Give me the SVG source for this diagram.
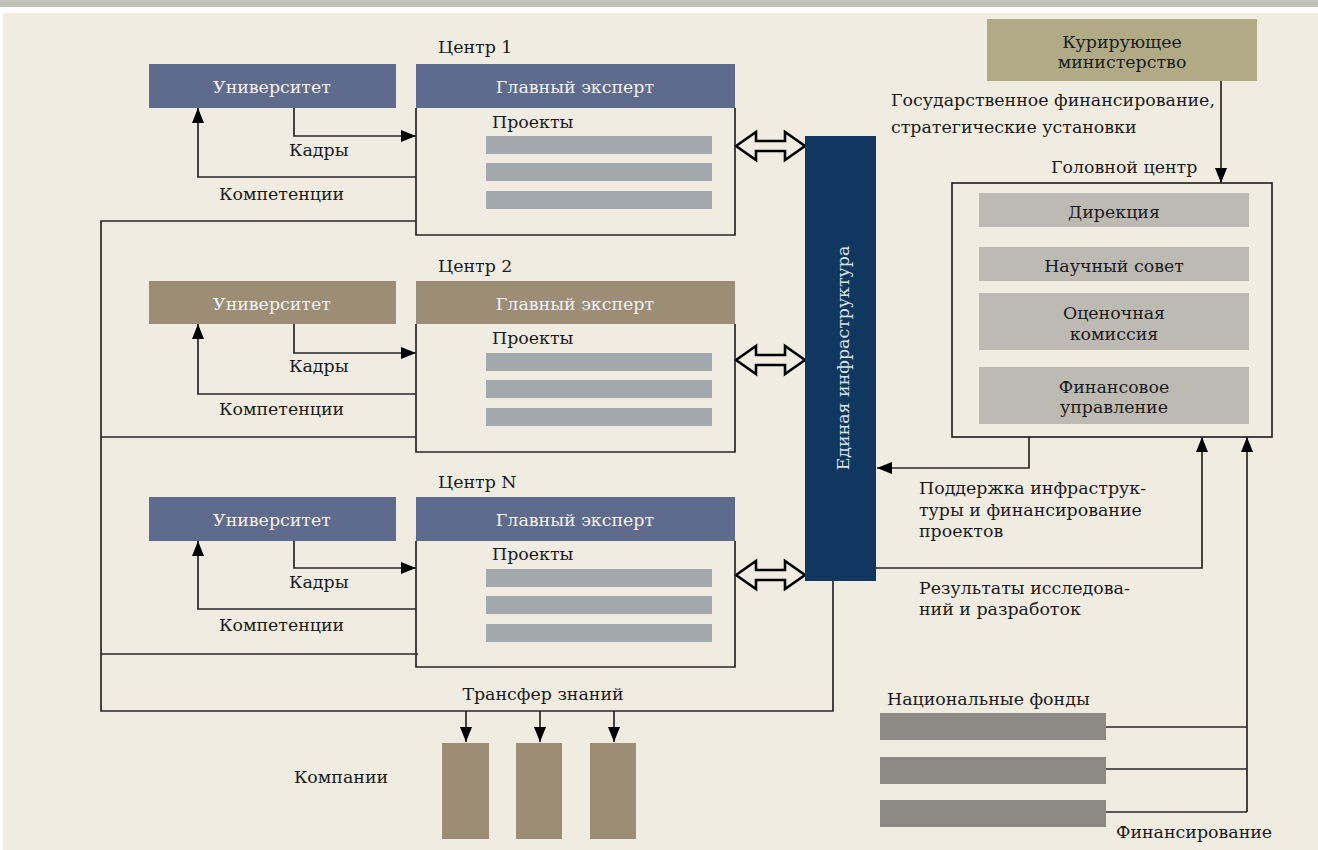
<svg xmlns="http://www.w3.org/2000/svg" width="1318" height="850" viewBox="0 0 1318 850">
<style>
text{font-family:"DejaVu Serif","Liberation Serif",serif;font-size:17.4px;fill:#1a1a1a}
.w{fill:#f2f2f2}
.c{text-anchor:middle}
.ln{fill:none;stroke:#262626;stroke-width:1.7}
.ar{marker-end:url(#ah)}
.blue{fill:#5f6b8c}
.brown{fill:#9c8d77}
.bar{fill:#a2a8ab}
.hc{fill:#bdb9b3}
.fund{fill:#8d8a84}
.dbl{fill:#f0ece2;stroke:#000;stroke-width:2.6;stroke-linejoin:miter}
</style>
<defs>
<marker id="ah" viewBox="0 0 15 12" refX="15" refY="6" markerWidth="15" markerHeight="12" markerUnits="userSpaceOnUse" orient="auto">
<path d="M0,0 L15,6 L0,12 Z" fill="#000"/>
</marker>
<path id="dbl" d="M0,0 L20,-14 L20,-5 L49,-5 L49,-14 L69,0 L49,14 L49,5 L20,5 L20,14 Z"/>
</defs>
<rect x="0" y="0" width="1318" height="850" fill="#ffffff"/>
<rect x="0" y="0" width="1318" height="7" fill="#bfc2b5"/>
<rect x="3" y="13" width="1315" height="837" fill="#f0ece2"/>

<g id="connectors">
<path class="ln ar" d="M294,108 V136 H416"/>
<path class="ln ar" d="M416,177 H198 V108"/>
<path class="ln" d="M416,221 H101 V711 H833 V581"/>
<path class="ln ar" d="M294,324 V353 H416"/>
<path class="ln ar" d="M416,394 H198 V324"/>
<path class="ln" d="M416,437 H101"/>
<path class="ln ar" d="M294,541 V568 H416"/>
<path class="ln ar" d="M416,609 H198 V541"/>
<path class="ln" d="M418,654 H101"/>
<path class="ln ar" d="M466,711 V742"/>
<path class="ln ar" d="M540,711 V742"/>
<path class="ln ar" d="M614,711 V742"/>
<path class="ln ar" d="M1221,81 V183"/>
<path class="ln ar" d="M1029,437 V468 H877"/>
<path class="ln ar" d="M876,568 H1202 V437"/>
<path class="ln ar" d="M1247,812 V437"/>
<path class="ln" d="M1106,727 H1247 M1106,769 H1247 M1106,812 H1247"/>
<use href="#dbl" class="dbl" x="736" y="146"/>
<use href="#dbl" class="dbl" x="736" y="360"/>
<use href="#dbl" class="dbl" x="736" y="575"/>
</g>

<g id="center1">
<text x="438" y="53">Центр 1</text>
<rect class="blue" x="149" y="64" width="247" height="44"/>
<text class="w c" x="272" y="93">Университет</text>
<path class="ln" d="M416,108 V235 H735 V108"/>
<rect class="blue" x="416" y="64" width="319" height="44"/>
<text class="w c" x="575" y="93">Главный эксперт</text>
<text x="492" y="128">Проекты</text>
<rect class="bar" x="486" y="136" width="226" height="18"/>
<rect class="bar" x="486" y="163" width="226" height="18"/>
<rect class="bar" x="486" y="191" width="226" height="18"/>
<text x="289" y="156">Кадры</text>
<text x="219" y="200">Компетенции</text>
</g>

<g id="center2">
<text x="438" y="272">Центр 2</text>
<rect class="brown" x="149" y="281" width="247" height="43"/>
<text class="w c" x="272" y="310">Университет</text>
<path class="ln" d="M416,324 V452 H735 V324"/>
<rect class="brown" x="416" y="281" width="319" height="43"/>
<text class="w c" x="575" y="310">Главный эксперт</text>
<text x="492" y="344">Проекты</text>
<rect class="bar" x="486" y="353" width="226" height="18"/>
<rect class="bar" x="486" y="380" width="226" height="18"/>
<rect class="bar" x="486" y="408" width="226" height="18"/>
<text x="289" y="372">Кадры</text>
<text x="219" y="415">Компетенции</text>
</g>

<g id="centerN">
<text x="438" y="488">Центр N</text>
<rect class="blue" x="149" y="497" width="247" height="44"/>
<text class="w c" x="272" y="526">Университет</text>
<path class="ln" d="M416,541 V667 H735 V541"/>
<rect class="blue" x="416" y="497" width="319" height="44"/>
<text class="w c" x="575" y="526">Главный эксперт</text>
<text x="492" y="560">Проекты</text>
<rect class="bar" x="486" y="569" width="226" height="18"/>
<rect class="bar" x="486" y="596" width="226" height="18"/>
<rect class="bar" x="486" y="624" width="226" height="18"/>
<text x="289" y="588">Кадры</text>
<text x="219" y="631">Компетенции</text>
</g>

<g id="infrastructure">
<rect x="805" y="136" width="71" height="445" fill="#0f3760"/>
<text class="c" x="849" y="358" transform="rotate(-90 849 358)" style="fill:#dde2ea">Единая инфраструктура</text>
</g>

<g id="ministry">
<rect x="987" y="19" width="270" height="62" fill="#b0ab85"/>
<text class="c" x="1122" y="48">Курирующее</text>
<text class="c" x="1122" y="68">министерство</text>
</g>

<g id="labels">
<text x="891" y="106">Государственное финансирование,</text>
<text x="891" y="133">стратегические установки</text>
<text x="1051" y="173">Головной центр</text>
<text x="919" y="494">Поддержка инфраструк-</text>
<text x="919" y="516">туры и финансирование</text>
<text x="919" y="537">проектов</text>
<text x="919" y="594">Результаты исследова-</text>
<text x="919" y="615">ний и разработок</text>
<text class="c" x="543" y="700">Трансфер знаний</text>
</g>

<g id="headcenter">
<rect x="952" y="183" width="320" height="254" fill="none" stroke="#262626" stroke-width="1.7"/>
<rect class="hc" x="979" y="193" width="270" height="34"/>
<text class="c" x="1114" y="218">Дирекция</text>
<rect class="hc" x="979" y="247" width="270" height="34"/>
<text class="c" x="1114" y="272">Научный совет</text>
<rect class="hc" x="979" y="293" width="270" height="57"/>
<text class="c" x="1114" y="319">Оценочная</text>
<text class="c" x="1114" y="340">комиссия</text>
<rect class="hc" x="979" y="367" width="270" height="57"/>
<text class="c" x="1114" y="393">Финансовое</text>
<text class="c" x="1114" y="413">управление</text>
</g>

<g id="companies">
<text class="c" x="341" y="783">Компании</text>
<rect class="brown" x="442" y="743" width="47" height="96"/>
<rect class="brown" x="516" y="743" width="46" height="96"/>
<rect class="brown" x="590" y="743" width="46" height="96"/>
</g>

<g id="funds">
<text x="887" y="705">Национальные фонды</text>
<rect class="fund" x="880" y="713" width="226" height="27"/>
<rect class="fund" x="880" y="757" width="226" height="27"/>
<rect class="fund" x="880" y="800" width="226" height="27"/>
<text x="1116" y="838">Финансирование</text>
</g>
</svg>
